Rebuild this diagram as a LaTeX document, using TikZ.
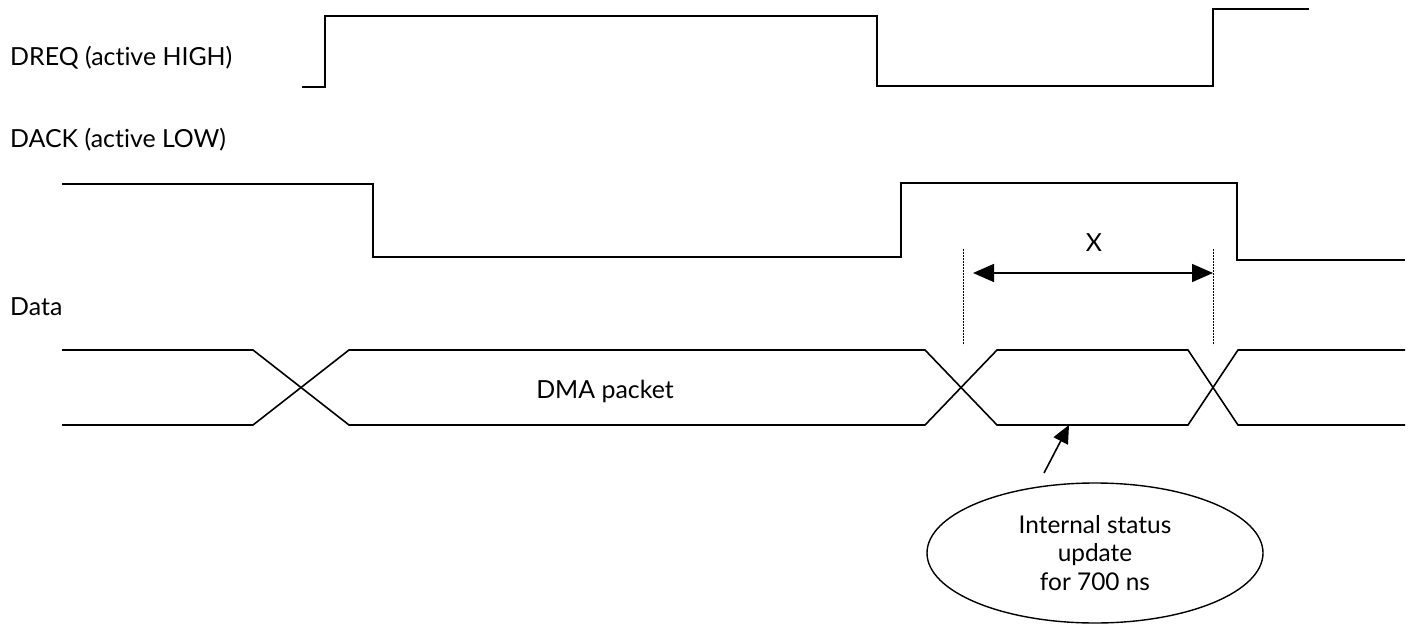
\documentclass[tikz,border=0pt]{standalone}
\usepackage{fontspec}
\setmainfont[Ligatures=NoCommon]{Lato}
\usetikzlibrary{arrows.meta,shapes.geometric}
\begin{document}
\begin{tikzpicture}[x=1bp,y=-1bp,
  wave/.style={line width=1.6bp,line join=miter},
  lbl/.style={font=\fontsize{25}{29}\selectfont,inner sep=0pt},
  dimline/.style={line width=1bp,dash pattern=on 1.5bp off 1.5bp},
  dimarrow/.style={line width=1.6bp,{Triangle[length=21bp,width=18bp]}-{Triangle[length=21bp,width=18bp]}},
  ptr/.style={line width=1.6bp,-{Triangle[length=18bp,width=16bp]}},
  bubble/.style={ellipse,draw,line width=1.4bp,minimum width=336bp,minimum height=140bp,inner sep=0pt,align=center,font=\fontsize{24.5}{28.5}\selectfont}]
\useasboundingbox (0,0) rectangle (1411,624);
% labels
\node[lbl,anchor=base west] (ldreq) at (10,66) {DREQ (active HIGH)};
\node[lbl,anchor=base west] (ldack) at (10,148) {DACK (active LOW)};
\node[lbl,anchor=base west] (ldata) at (10,315) {Data};
% DREQ
\draw[wave] (302,87) -- (325,87) -- (325,16) -- (877,16) -- (877,86) -- (1213,86) -- (1213,9) -- (1309,9);
% DACK
\draw[wave] (62,184) -- (373,184) -- (373,257) -- (901,257) -- (901,183) -- (1237,183) -- (1237,260) -- (1405,260);
% Data bus
\draw[wave] (62,350) -- (253,350) -- (349,425) -- (925,425) -- (997,350) -- (1188,350) -- (1238,425) -- (1405,425);
\draw[wave] (62,425) -- (253,425) -- (349,350) -- (925,350) -- (997,425) -- (1188,425) -- (1238,350) -- (1405,350);
\node[lbl,anchor=base] (lpkt) at (605,398) {DMA packet};
% dimension X
\coordinate (d1t) at (963,249);
\coordinate (d1b) at (963,345);
\coordinate (d2t) at (1213,249);
\coordinate (d2b) at (1213,345);
\draw[dimline] (d1t) -- (d1b);
\draw[dimline] (d2t) -- (d2b);
\coordinate (aL) at (973,273);
\coordinate (aR) at (1213,273);
\draw[dimarrow] (aL) -- (aR);
\node[lbl,anchor=base] (lx) at (1094,251) {X};
% status bubble
\node[bubble] (st) at (1095,553) {Internal status\\update\\for 700 ns};
\coordinate (ptail) at (1044,473);
\coordinate (ptip) at (1069,425);
\draw[ptr] (ptail) -- (ptip);
\end{tikzpicture}
\end{document}
